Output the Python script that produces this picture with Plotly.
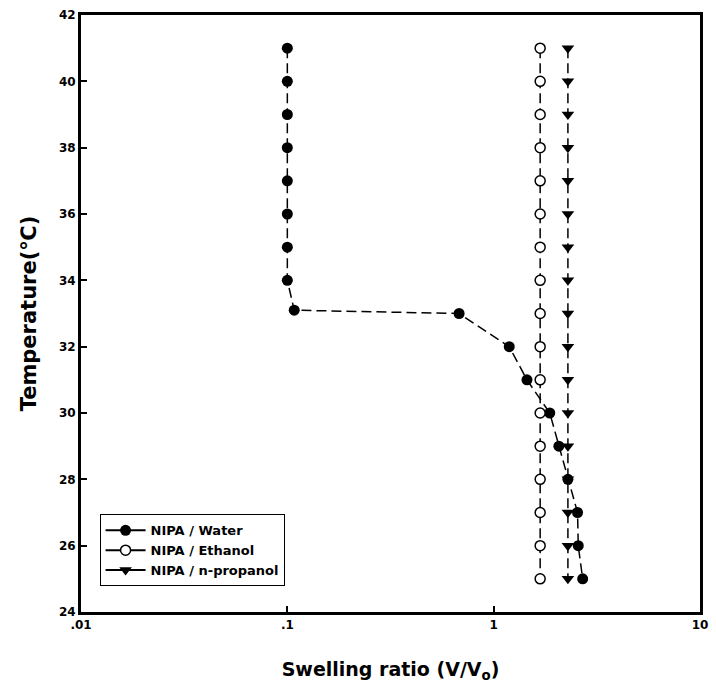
import plotly.graph_objects as go

temps_water = [41, 40, 39, 38, 37, 36, 35, 34, 33.1, 33, 32, 31, 30, 29, 28, 27, 26, 25]
ratio_water = [0.1, 0.1, 0.1, 0.1, 0.1, 0.1, 0.1, 0.1, 0.108, 0.68, 1.19, 1.45, 1.87, 2.07, 2.29, 2.55, 2.57, 2.7]

temps_eth = [41, 40, 39, 38, 37, 36, 35, 34, 33, 32, 31, 30, 29, 28, 27, 26, 25]
ratio_eth = [1.68] * 17

temps_prop = [41, 40, 39, 38, 37, 36, 35, 34, 33, 32, 31, 30, 29, 28, 27, 26, 25]
ratio_prop = [2.29] * 17

series_names = ["NIPA / Water", "NIPA / Ethanol", "NIPA / n-propanol"]
x_ticks = [0.01, 0.1, 1, 10]
x_ticklabels = [".01", ".1", "1", "10"]
y_ticks = [24, 26, 28, 30, 32, 34, 36, 38, 40, 42]

FONT = "DejaVu Sans"
markers = [
    dict(symbol="circle", size=11, color="black"),
    dict(symbol="circle", size=10, color="white", line=dict(color="black", width=1.5)),
    dict(symbol="triangle-down", size=11, color="black"),
]
data = [(ratio_water, temps_water), (ratio_eth, temps_eth), (ratio_prop, temps_prop)]

fig = go.Figure()
dash_line = dict(color="black", width=1.5, dash="10px,5px")
for (xs, ys), mk, nm in zip(data, markers, series_names):
    fig.add_trace(go.Scatter(x=xs, y=ys, mode="lines+markers", name=nm, showlegend=False,
                             line=dash_line, marker=mk))
# legend entries with solid line
for mk, nm in zip(markers, series_names):
    fig.add_trace(go.Scatter(x=[None], y=[None], mode="lines+markers", name=nm,
                             line=dict(color="black", width=2), marker=mk))

fig.update_layout(
    width=716, height=686,
    margin=dict(l=81, r=8, t=14, b=73),
    plot_bgcolor="white", paper_bgcolor="white",
    font=dict(family=FONT, color="black"),
    legend=dict(x=0.03, y=0.043, xanchor="left", yanchor="bottom",
                bordercolor="black", borderwidth=1, bgcolor="white",
                font=dict(size=13, family=FONT, weight="bold"),
                tracegroupgap=0, itemwidth=40),
    showlegend=True,
)
fig.update_xaxes(type="log", range=[-2, 1], tickvals=x_ticks, ticktext=x_ticklabels,
                 ticks="inside", ticklen=6, tickwidth=2, tickcolor="black",
                 showline=True, linewidth=3, linecolor="black", mirror=True,
                 showgrid=False, zeroline=False,
                 tickfont=dict(size=12, weight="bold"),
                 title=dict(text="Swelling ratio (V/V<sub>o</sub>)", font=dict(size=19, weight="bold"),
                            standoff=32))
fig.update_yaxes(range=[24, 42], tickvals=y_ticks,
                 ticks="inside", ticklen=6, tickwidth=2, tickcolor="black",
                 showline=True, linewidth=3, linecolor="black", mirror=True,
                 showgrid=False, zeroline=False,
                 tickfont=dict(size=12, weight="bold"),
                 title=dict(text="Temperature(℃)", font=dict(size=21, weight="bold"), standoff=17))

fig.write_html("out.html")
